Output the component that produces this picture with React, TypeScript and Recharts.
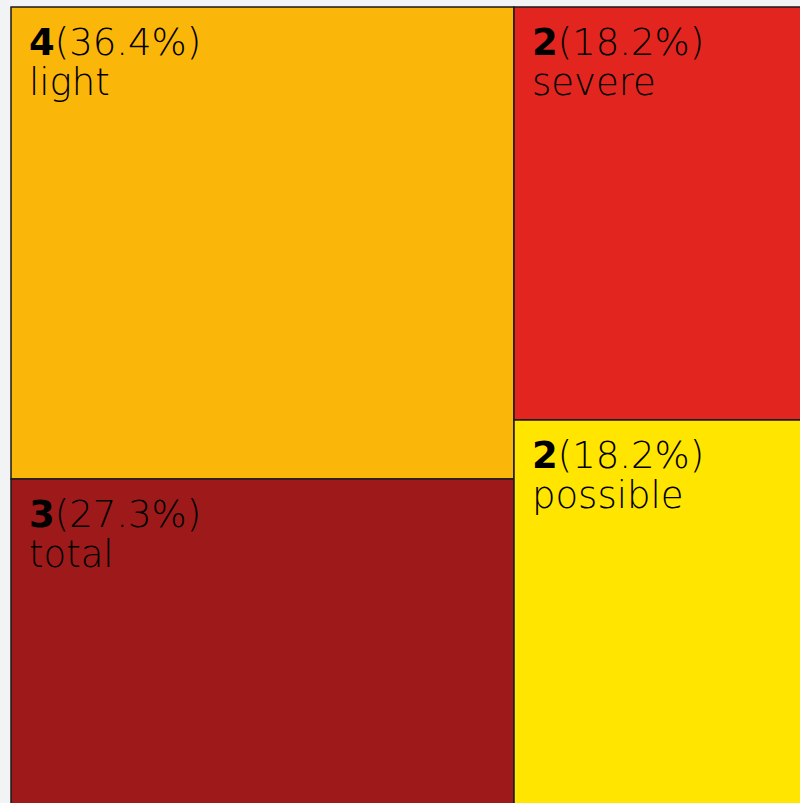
import { Treemap } from 'recharts';

// severity buckets, grouped the way the reference splits them into two columns
const leftNames = ['light', 'total'];
const leftCounts = [4, 3];
const rightNames = ['severe', 'possible'];
const rightCounts = [2, 2];

const colors: Record<string, string> = {
  light: '#FBB60A',
  total: '#9E1A1A',
  severe: '#E3251F',
  possible: '#FFE500',
};

const totalCount = [...leftCounts, ...rightCounts].reduce((s, v) => s + v, 0);

const data = [
  { name: 'left', children: leftNames.map((n, i) => ({ name: n, size: leftCounts[i] })) },
  { name: 'right', children: rightNames.map((n, i) => ({ name: n, size: rightCounts[i] })) },
];

const FONT = '"DejaVu Sans", "Open Sans", sans-serif';

function Cell(props: any) {
  const { x, y, width, height, depth, name, value } = props;
  if (depth !== 2) return <g />;
  const pct = ((value / totalCount) * 100).toFixed(1);
  return (
    <g>
      <rect
        x={x}
        y={y}
        width={width}
        height={height}
        fill={colors[name]}
        stroke="#1a1a1a"
        strokeWidth={1.5}
      />
      <text x={x + 18} y={y + 48} fontFamily={FONT} fontSize={37} fill="#000">
        <tspan fontWeight={900}>{value}</tspan>
        <tspan fontWeight={200}>({pct}%)</tspan>
      </text>
      <text x={x + 18} y={y + 88} fontFamily={FONT} fontSize={37} fontWeight={200} fill="#000">
        {name}
      </text>
    </g>
  );
}

export default function App() {
  return (
    <div
      style={{
        position: 'fixed',
        left: 0,
        top: 0,
        width: 800,
        height: 803,
        overflow: 'hidden',
        background: '#f2f3f5',
      }}
    >
      <style>{'.recharts-surface { overflow: visible; }'}</style>
      <div style={{ position: 'absolute', left: 11, top: 7 }}>
        <Treemap
          width={790}
          height={826}
          data={data}
          dataKey="size"
          nameKey="name"
          content={<Cell />}
          isAnimationActive={false}
        />
      </div>
    </div>
  );
}
